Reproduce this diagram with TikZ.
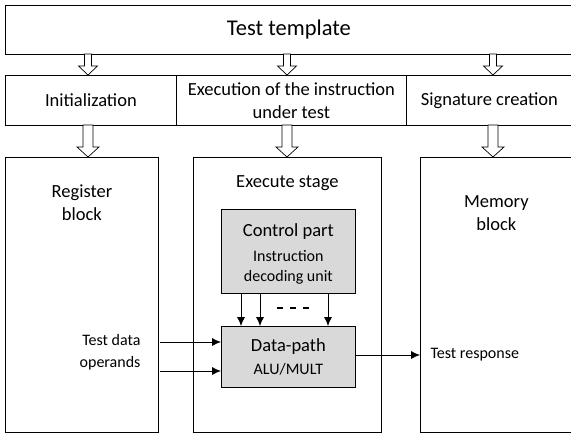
\documentclass[tikz,border=0pt]{standalone}
\usepackage{fontspec}
\setmainfont{Carlito}
\usetikzlibrary{positioning,arrows.meta}

\tikzset{
  box/.style={draw, line width=0.8pt, anchor=north west, inner sep=0pt, align=center},
  unit/.style={box, fill=black!15, text depth=0pt},
  pics/hollow/.style n args={4}{code={
    \draw[line width=0.7pt, fill=white] (-#2,-#1) -- (#2,-#1) -- (#2,-#4) -- (#3,-#4)
      -- (0,0) -- (-#3,-#4) -- (-#2,-#4) -- cycle;}},
  sig/.style={-{Latex[length=9pt,width=8pt]}, line width=0.8pt},
  big/.style={font=\fontsize{22.5}{26}\selectfont},
  mid/.style={font=\fontsize{18.5}{23}\selectfont},
  small/.style={font=\fontsize{16}{20}\selectfont}
}

\begin{document}
\begin{tikzpicture}[x=1pt,y=-1pt]
  \useasboundingbox (0,0) rectangle (571,434);

  \node[box, big, minimum width=567pt, minimum height=49pt] (tmpl) at (5,5) {Test template};

  \node[box, mid, minimum width=171pt, minimum height=50pt] (init) at (5,75) {Initialization};
  \node[box, mid, minimum width=230pt, minimum height=50pt] (exec) at (176,75) {Execution of the instruction\\under test};
  \node[box, mid, minimum width=166pt, minimum height=50pt] (sign) at (406,75) {Signature creation};

  \node[box, minimum width=153pt, minimum height=275pt] (reg) at (5,157) {};
  \node[box, minimum width=188pt, minimum height=275pt] (stage) at (193,157) {};
  \node[box, minimum width=152pt, minimum height=275pt] (mem) at (420,157) {};

  \node[mid, align=center, below=46pt of reg.north, anchor=center] (reglab) {Register\\block};
  \node[mid, align=center, below=26pt of stage.north, anchor=center] (stagelab) {Execute stage};
  \node[mid, align=center, below=56pt of mem.north, anchor=center] (memlab) {Memory\\block};

  \foreach \x in {88,287,493} {
    \pic at (\x,75) {hollow={21}{3.5}{9.5}{9}};
    \pic at (\x,157) {hollow={32}{5}{11}{10}};
  }

  \node[unit, minimum width=134pt, minimum height=84pt] (ctrl) at (221,209) {};
  \node[mid, below=23pt of ctrl.north, anchor=center] (ctrllab) {Control part};
  \node[small, align=center, below=58pt of ctrl.north, anchor=center] (ctrlsub) {Instruction\\decoding unit};

  \node[unit, minimum width=134pt, minimum height=61pt] (dp) at (221,326) {};
  \node[mid, below=21pt of dp.north, anchor=center] (dplab) {Data-path};
  \node[small, below=43pt of dp.north, anchor=center] (dpsub) {ALU/MULT};

  \foreach \x in {20,39,107}
    \draw[sig] ([xshift=\x pt]ctrl.south west) -- ([xshift=\x pt]dp.north west);
  \draw[line width=1.2pt, dash pattern=on 6pt off 7pt] (277,308) -- (311,308);

  \coordinate (in1) at (160,342);
  \coordinate (in2) at (160,371);
  \draw[sig] (in1) -- (in1 -| dp.west);
  \draw[sig] (in2) -- (in2 -| dp.west);
  \node[small, align=right, anchor=east, font=\fontsize{16}{22}\selectfont] (inlab) at (144,352) {Test data\\operands};

  \draw[sig] (dp.east |- 0,355) -- (mem.west |- 0,355);
  \node[small, anchor=west] (outlab) at (427,355) {Test response};
\end{tikzpicture}
\end{document}
